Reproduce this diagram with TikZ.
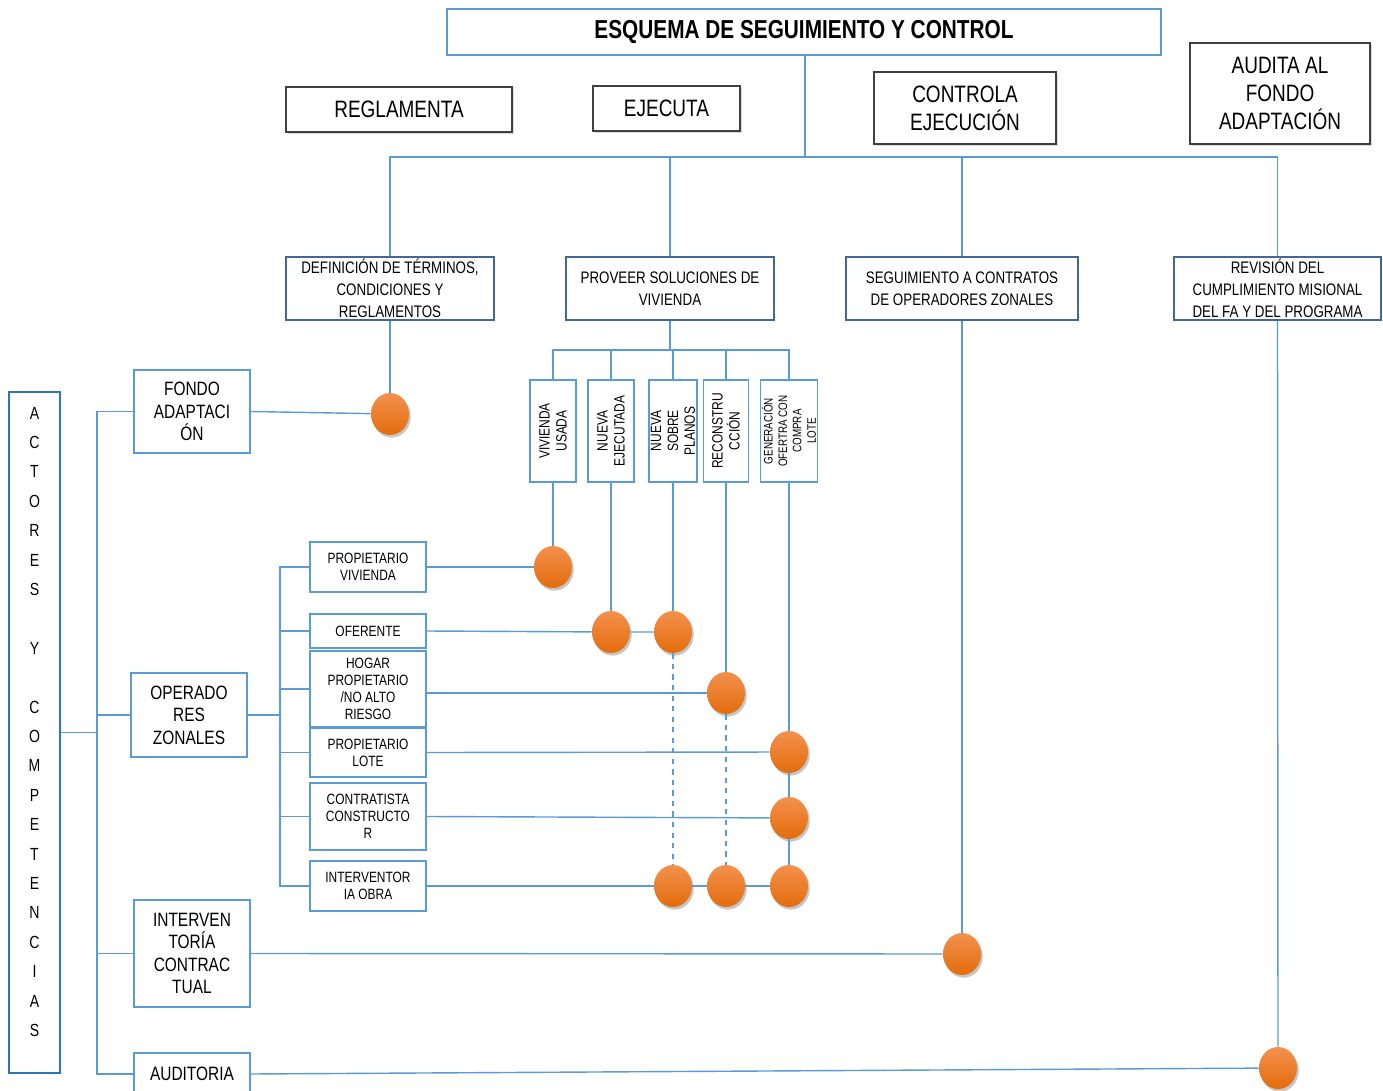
\documentclass[tikz,border=0pt]{standalone}
\usepackage{fontspec}
\setmainfont{Liberation Sans}[FakeStretch=0.8]
\usetikzlibrary{positioning}
\usetikzlibrary{shapes.geometric}
\usetikzlibrary{shadows}
\definecolor{lineblue}{RGB}{91,155,213}
\definecolor{boxblue}{RGB}{91,155,213}
\definecolor{darkblue}{RGB}{46,117,182}
\definecolor{rowblue}{RGB}{68,104,150}
\definecolor{orangetop}{RGB}{243,145,78}
\definecolor{orangebot}{RGB}{228,108,12}

\tikzset{
  conn/.style={draw=lineblue, line width=0.8pt},
  titlebox/.style={draw=boxblue, line width=1.4pt, fill=white, minimum width=14.28cm, minimum height=0.92cm, font=\bfseries\fontsize{14.8}{17}\selectfont},
  labelbox/.style={draw=black!75, line width=0.9pt, fill=white, align=center, inner sep=2pt, drop shadow={shadow xshift=1pt, shadow yshift=-1pt, opacity=0.3}, font=\fontsize{13.5}{15.8}\selectfont},
  rowbox/.style={draw=rowblue, line width=1.2pt, fill=white, align=center, inner sep=0pt, minimum height=1.26cm, font=\fontsize{9.5}{12.5}\selectfont},
  optbox/.style={draw=boxblue, line width=0.8pt, fill=white, rotate=90, align=center, inner sep=1pt, minimum width=2.04cm, minimum height=0.92cm, font=\fontsize{8.5}{9.6}\selectfont},
  actorbox/.style={draw=boxblue, line width=1.3pt, fill=white, align=center, inner sep=1pt, minimum width=2.32cm, font=\fontsize{11}{12.8}\selectfont},
  rolebox/.style={draw=boxblue, line width=1.3pt, fill=white, align=center, inner sep=1pt, minimum width=2.32cm, font=\fontsize{8.5}{9.6}\selectfont},
  dot/.style={ellipse, inner sep=0pt, minimum width=0.76cm, minimum height=0.84cm, top color=orangetop, bottom color=orangebot, drop shadow={shadow xshift=1pt, shadow yshift=-1.5pt, opacity=0.45}},
  letter/.style={inner sep=0pt, font=\fontsize{10}{12}\selectfont}
}

\begin{document}
\begin{tikzpicture}[x=0.02cm, y=-0.02cm]
  \useasboundingbox (0,0) rectangle (1383,1091);

  % Encabezado
  \node[titlebox] (title) at (804,32) {ESQUEMA DE SEGUIMIENTO Y CONTROL};
  \node[labelbox, minimum width=4.52cm, minimum height=0.9cm] (regl) at (399,109.5) {REGLAMENTA};
  \node[labelbox, minimum width=2.94cm, minimum height=0.9cm] (ejec) at (666.5,108.5) {EJECUTA};
  \node[labelbox, minimum width=3.64cm, minimum height=1.44cm] (contr) at (965,108) {CONTROLA\\EJECUCIÓN};
  \node[labelbox, minimum width=3.6cm, minimum height=2.02cm] (audita) at (1280,93.5) {AUDITA AL\\FONDO\\ADAPTACIÓN};

  % Funciones
  \node[rowbox, minimum width=4.16cm] (def) at (390,288.5) {DEFINICIÓN DE TÉRMINOS,\\CONDICIONES Y\\REGLAMENTOS};
  \node[rowbox, minimum width=4.16cm] (prov) at (670,288.5) {PROVEER SOLUCIONES DE\\VIVIENDA};
  \node[rowbox, minimum width=4.64cm] (seg) at (962,288.5) {SEGUIMIENTO A CONTRATOS\\DE OPERADORES ZONALES};
  \node[rowbox, minimum width=4.14cm] (rev) at (1277.5,288.5) {REVISIÓN DEL\\CUMPLIMIENTO MISIONAL\\DEL FA Y DEL PROGRAMA};

  % Tipos de solucion
  \node[optbox] (vu) at (553,431) {VIVIENDA\\USADA};
  \node[optbox] (ne) at (611,431) {NUEVA\\EJECUTADA};
  \node[optbox] (nsp) at (673,431) {NUEVA\\SOBRE\\PLANOS};
  \node[optbox, minimum height=0.9cm] (rec) at (726,431) {RECONSTRU\\CCIÓN};
  \node[optbox, minimum height=1.12cm, font=\fontsize{7}{8.2}\selectfont] (gen) at (789,431) {GENERACIÓN\\OFERTRA CON\\COMPRA\\LOTE};

  % Actores
  \node[draw=darkblue, line width=1.5pt, minimum width=1.02cm, minimum height=13.62cm] (actores) at (34.5,732.5) {};
  \foreach \ch [count=\i from 0] in {A,C,T,O,R,E,S,{},Y,{},C,O,M,P,E,T,E,N,C,I,A,S}
    \node[letter] (let\i) at (34.5,{413+29.4*\i}) {\ch};

  \node[actorbox, minimum height=1.66cm] (fondo) at (192,411.5) {FONDO\\ADAPTACI\\ÓN};
  \node[actorbox, minimum height=1.68cm] (oper) at (189,715) {OPERADO\\RES\\ZONALES};
  \node[actorbox, minimum height=2.14cm] (interv) at (192,953.5) {INTERVEN\\TORÍA\\CONTRAC\\TUAL};
  \node[actorbox, minimum height=0.84cm] (audit) at (192,1074) {AUDITORIA};

  \node[rolebox, minimum height=1.0cm] (propviv) at (368,567) {PROPIETARIO\\VIVIENDA};
  \node[rolebox, minimum height=0.68cm] (oferente) at (368,631) {OFERENTE};
  \node[rolebox, minimum height=1.52cm] (hogar) at (368,689) {HOGAR\\PROPIETARIO\\/NO ALTO\\RIESGO};
  \node[rolebox, minimum height=0.98cm] (lote) at (368,752.5) {PROPIETARIO\\LOTE};
  \node[rolebox, minimum height=1.34cm] (contra) at (368,816.5) {CONTRATISTA\\CONSTRUCTO\\R};
  \node[rolebox, minimum height=1.0cm] (io) at (368,886) {INTERVENTOR\\IA OBRA};

  % Puntos de cruce
  \node[dot] (cFA) at (390,414) {};
  \node[dot] (cPV) at (553,567) {};
  \node[dot] (cOF1) at (611,632) {};
  \node[dot] (cOF2) at (673,632) {};
  \node[dot] (cHP) at (726,693) {};
  \node[dot] (cPL) at (789,752) {};
  \node[dot] (cCC) at (789,818) {};
  \node[dot] (cIO1) at (673,886) {};
  \node[dot] (cIO2) at (726,886) {};
  \node[dot] (cIO3) at (789,886) {};
  \node[dot] (cIC) at (962,954) {};
  \node[dot] (cAU) at (1278,1068) {};

  % Conectores superiores
  \coordinate (topbus) at (805,157);
  \draw[conn] (title.south -| topbus) -- (topbus);
  \draw[conn] (def.north) |- (topbus) -| (rev.north);
  \draw[conn] (prov.north) -- (prov.north |- topbus);
  \draw[conn] (seg.north) -- (seg.north |- topbus);

  \coordinate (solbus) at (670,350);
  \draw[conn] (prov.south) -- (prov.south |- solbus);
  \draw[conn] (vu.east) |- (solbus) -| (gen.east);
  \draw[conn] (ne.east) -- (ne.east |- solbus);
  \draw[conn] (nsp.east) -- (nsp.east |- solbus);
  \draw[conn] (rec.east) -- (rec.east |- solbus);

  % Conectores verticales
  \draw[conn] (def.south) -- (cFA);
  \draw[conn] (vu.west) -- (cPV);
  \draw[conn] (ne.west) -- (cOF1);
  \draw[conn] (nsp.west) -- (cOF2);
  \draw[conn, dashed] (cOF2) -- (cIO1);
  \draw[conn] (rec.west) -- (cHP);
  \draw[conn, dashed] (cHP) -- (cIO2);
  \draw[conn] (gen.west) -- (cPL) -- (cCC) -- (cIO3);
  \draw[conn] (seg.south) -- (cIC);
  \draw[conn] (rev.south) -- (cAU);

  % Conectores izquierdos
  \coordinate (leftbus) at (97,733);
  \draw[conn] (actores.east) -- (actores.east -| leftbus);
  \draw[conn] (fondo.west) -| (leftbus) |- (audit.west);
  \draw[conn] (oper.west) -- (oper.west -| leftbus);
  \draw[conn] (interv.west) -- (interv.west -| leftbus);

  \coordinate (opbus) at (280,715);
  \draw[conn] (oper.east) -- (opbus);
  \draw[conn] (propviv.west) -| (opbus) |- (io.west);
  \draw[conn] (oferente.west) -- (oferente.west -| opbus);
  \draw[conn] (hogar.west) -- (hogar.west -| opbus);
  \draw[conn] (lote.west) -- (lote.west -| opbus);
  \draw[conn] (contra.west) -- (contra.west -| opbus);

  % Conectores horizontales
  \draw[conn] (fondo.east) -- (cFA);
  \draw[conn] (propviv.east) -- (cPV);
  \draw[conn] (oferente.east) -- (cOF1) -- (cOF2);
  \draw[conn] (hogar.east |- cHP) -- (cHP);
  \draw[conn] (lote.east) -- (cPL);
  \draw[conn] (contra.east) -- (cCC);
  \draw[conn] (io.east) -- (cIO1) -- (cIO2) -- (cIO3);
  \draw[conn] (interv.east) -- (cIC);
  \draw[conn] (audit.east) -- (cAU);
\end{tikzpicture}
\end{document}
